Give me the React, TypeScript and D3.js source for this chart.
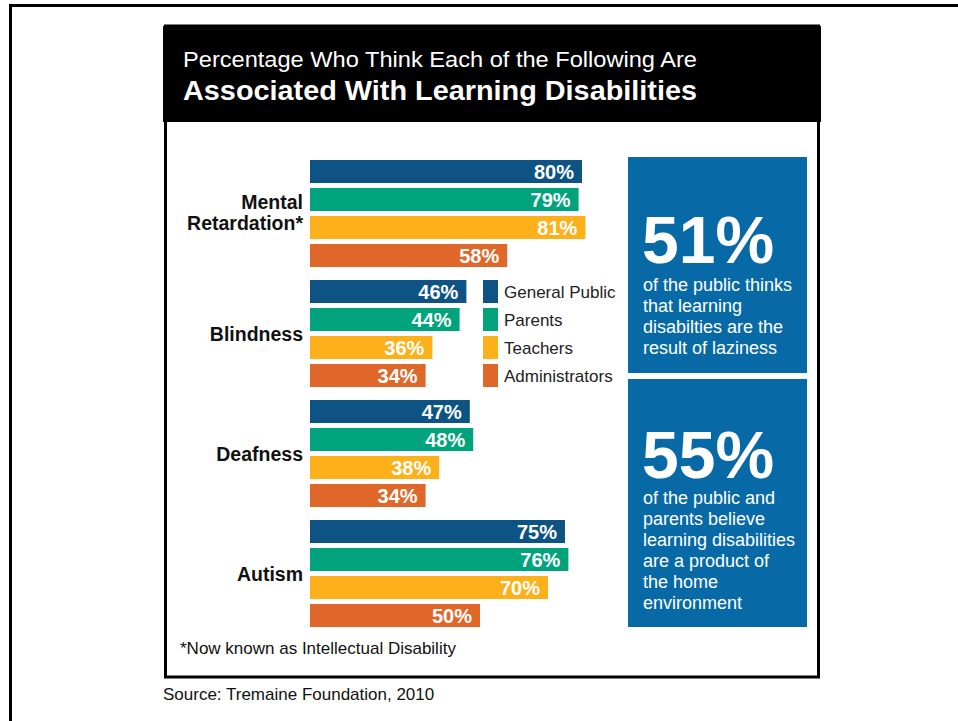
import * as d3 from 'd3';

// Data
const categories = ['Mental Retardation*', 'Blindness', 'Deafness', 'Autism'];
const categoryLines: string[][] = [['Mental', 'Retardation*'], ['Blindness'], ['Deafness'], ['Autism']];
const seriesNames = ['General Public', 'Parents', 'Teachers', 'Administrators'];
const seriesColors = ['#0d5384', '#00a37b', '#fcb11b', '#e0672a'];
const generalPublic = [80, 46, 47, 75];
const parents = [79, 44, 48, 76];
const teachers = [81, 36, 38, 70];
const administrators = [58, 34, 34, 50];
const seriesValues = [generalPublic, parents, teachers, administrators];

const titleLine1 = 'Percentage Who Think Each of the Following Are';
const titleLine2 = 'Associated With Learning Disabilities';
const footnote = '*Now known as Intellectual Disability';
const source = 'Source: Tremaine Foundation, 2010';

const callout1Big = '51%';
const callout1Lines = ['of the public thinks', 'that learning', 'disabilties are the', 'result of laziness'];
const callout2Big = '55%';
const callout2Lines = ['of the public and', 'parents believe', 'learning disabilities', 'are a product of', 'the home', 'environment'];

const FONT = '"Liberation Sans", Arial, Helvetica, sans-serif';

export default function App() {
    const width = 958;
    const height = 721;

    const x = d3.scaleLinear().domain([0, 100]).range([310, 650]);
    const y = d3.scaleBand<string>()
        .domain(categories)
        .range([160, 627])
        .paddingInner(13 / 120)
        .paddingOuter(0);
    const ySub = d3.scaleBand<string>()
        .domain(seriesNames)
        .range([0, y.bandwidth()])
        .paddingInner(5 / 28)
        .paddingOuter(0);

    const legendY = y('Blindness') ?? 0;

    return (
        <div style={{ position: 'absolute', left: 0, top: 0 }}>
            <svg width={width} height={height} style={{ display: 'block', background: '#fff' }} fontFamily={FONT}>
                {/* outer frame */}
                <path d="M10.5,721 V5.5 H958" fill="none" stroke="#000" strokeWidth={3} />

                {/* panel */}
                <rect x={165.5} y={26} width={653} height={651} fill="#fff" stroke="#000" strokeWidth={3} />
                <rect x={163} y={26} width={658} height={96} fill="#000" />
                <text x={183} y={67} fill="#fff" fontSize={22} textLength={514} lengthAdjust="spacingAndGlyphs">
                    {titleLine1}
                </text>
                <text x={183} y={100} fill="#fff" fontSize={28} fontWeight="bold" textLength={514} lengthAdjust="spacingAndGlyphs">
                    {titleLine2}
                </text>

                {/* bars */}
                {categories.map((cat, ci) => {
                    const gy = y(cat) ?? 0;
                    const lines = categoryLines[ci];
                    const cy = gy + y.bandwidth() / 2;
                    return (
                        <g key={cat}>
                            {lines.map((ln, li) => (
                                <text
                                    key={ln}
                                    x={303}
                                    y={lines.length === 1 ? cy + 7 : cy - 4.5 + li * 21}
                                    textAnchor="end"
                                    fontSize={19.5}
                                    fontWeight="bold"
                                    fill="#111"
                                >
                                    {ln}
                                </text>
                            ))}
                            {seriesNames.map((s, si) => {
                                const v = seriesValues[si][ci];
                                const by = gy + (ySub(s) ?? 0);
                                return (
                                    <g key={s}>
                                        <rect x={x(0)} y={by} width={x(v) - x(0)} height={ySub.bandwidth()} fill={seriesColors[si]} />
                                        <text
                                            x={x(v) - 8}
                                            y={by + ySub.bandwidth() / 2 + 7}
                                            textAnchor="end"
                                            fontSize={20}
                                            fontWeight="bold"
                                            fill="#fff"
                                        >
                                            {v}%
                                        </text>
                                    </g>
                                );
                            })}
                        </g>
                    );
                })}

                {/* legend */}
                {seriesNames.map((s, si) => {
                    const ly = legendY + (ySub(s) ?? 0);
                    return (
                        <g key={s}>
                            <rect x={483} y={ly} width={15} height={ySub.bandwidth()} fill={seriesColors[si]} />
                            <text x={504} y={ly + ySub.bandwidth() / 2 + 6} fontSize={17} fill="#222">
                                {s}
                            </text>
                        </g>
                    );
                })}

                {/* callouts */}
                <rect x={628} y={157} width={179} height={216} fill="#076aa6" />
                <text x={642} y={263} fill="#fff" fontSize={66} fontWeight="bold">{callout1Big}</text>
                {callout1Lines.map((ln, i) => (
                    <text key={ln} x={643} y={291 + i * 21} fill="#fff" fontSize={18}>{ln}</text>
                ))}
                <rect x={628} y={379} width={179} height={248} fill="#076aa6" />
                <text x={642} y={478} fill="#fff" fontSize={66} fontWeight="bold">{callout2Big}</text>
                {callout2Lines.map((ln, i) => (
                    <text key={ln} x={643} y={504 + i * 21} fill="#fff" fontSize={18}>{ln}</text>
                ))}

                {/* notes */}
                <text x={180} y={654} fontSize={17} fill="#111">{footnote}</text>
                <text x={163} y={700} fontSize={17} fill="#111">{source}</text>
            </svg>
        </div>
    );
}
